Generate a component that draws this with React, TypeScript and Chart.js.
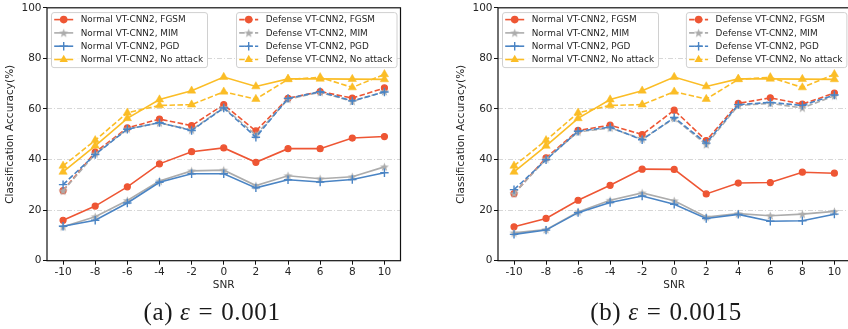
import React, { useEffect, useRef } from 'react';
import { Chart, registerables } from 'chart.js';

Chart.register(...registerables);

// ---------- data ----------
const snrLabels = ['-10', '-8', '-6', '-4', '-2', '0', '2', '4', '6', '8', '10'];

const seriesNames = [
  'Normal VT-CNN2, FGSM',
  'Normal VT-CNN2, MIM',
  'Normal VT-CNN2, PGD',
  'Normal VT-CNN2, No attack',
  'Defense VT-CNN2, FGSM',
  'Defense VT-CNN2, MIM',
  'Defense VT-CNN2, PGD',
  'Defense VT-CNN2, No attack',
];

const captionA = '0.001';
const captionB = '0.0015';

// (a) epsilon = 0.001
const normalFgsmA = [16.0, 21.6, 29.2, 38.3, 43.1, 44.6, 38.9, 44.3, 44.3, 48.5, 49.1];
const normalMimA = [13.4, 17.4, 23.8, 31.5, 35.5, 35.8, 29.7, 33.6, 32.4, 33.2, 37.1];
const normalPgdA = [13.6, 16.0, 22.8, 31.0, 34.4, 34.4, 28.8, 32.0, 31.1, 32.1, 34.8];
const normalNoneA = [35.1, 45.4, 56.3, 63.7, 67.2, 72.6, 68.9, 71.9, 71.9, 71.8, 71.7];
const defenseFgsmA = [27.7, 42.9, 52.5, 56.0, 53.4, 61.7, 51.3, 64.2, 66.9, 64.3, 68.3];
const defenseMimA = [27.6, 42.2, 52.1, 54.5, 51.7, 60.6, 49.7, 63.9, 66.6, 63.0, 66.9];
const defensePgdA = [30.1, 42.0, 52.0, 54.6, 51.5, 60.4, 48.8, 64.2, 66.8, 63.2, 66.7];
const defenseNoneA = [37.5, 47.6, 58.5, 61.4, 61.7, 66.8, 63.9, 71.7, 72.5, 68.5, 73.7];

// (b) epsilon = 0.0015
const normalFgsmB = [13.4, 16.7, 23.9, 29.8, 36.2, 36.1, 26.4, 30.7, 30.9, 35.0, 34.6];
const normalMimB = [11.0, 12.3, 19.3, 23.9, 26.8, 23.7, 17.3, 18.6, 17.8, 18.4, 19.5];
const normalPgdB = [10.4, 12.1, 19.0, 23.0, 25.6, 22.3, 16.7, 18.3, 15.6, 15.8, 18.4];
const normalNoneB = [35.1, 45.4, 56.3, 63.7, 67.2, 72.6, 68.9, 71.9, 71.9, 71.8, 71.7];
const defenseFgsmB = [26.5, 40.7, 51.5, 53.6, 49.9, 59.5, 47.5, 62.2, 64.4, 61.9, 66.3];
const defenseMimB = [26.5, 40.2, 50.9, 52.5, 48.1, 56.3, 45.9, 61.4, 62.2, 60.4, 65.2];
const defensePgdB = [28.1, 39.9, 51.2, 52.8, 47.8, 56.6, 46.5, 61.7, 62.6, 61.4, 65.5];
const defenseNoneB = [37.5, 47.6, 58.5, 61.4, 61.7, 66.8, 63.9, 71.7, 72.5, 68.5, 73.7];

const yTicks = [0, 20, 40, 60, 80, 100];

// ---------- styles ----------
const RED = '#ee5634';
const GRAY = '#acacac';
const BLUE = '#4a84c4';
const YELLOW = '#fbbd26';
const FONT = '"DejaVu Sans", sans-serif';
const LEGEND_FONT = `8.9px ${FONT}`;
const DASH = [5.5, 2.4];

type Marker = 'circle' | 'star' | 'cross' | 'triangle';
const styleOf: { color: string; marker: Marker; dashed: boolean }[] = [
  { color: RED, marker: 'circle', dashed: false },
  { color: GRAY, marker: 'star', dashed: false },
  { color: BLUE, marker: 'cross', dashed: false },
  { color: YELLOW, marker: 'triangle', dashed: false },
  { color: RED, marker: 'circle', dashed: true },
  { color: GRAY, marker: 'star', dashed: true },
  { color: BLUE, marker: 'cross', dashed: true },
  { color: YELLOW, marker: 'triangle', dashed: true },
];

function makeStar(color: string) {
  const size = 11;
  const c = document.createElement('canvas');
  c.width = size;
  c.height = size;
  const g = c.getContext('2d')!;
  g.beginPath();
  for (let k = 0; k < 10; k++) {
    const rr = k % 2 === 0 ? 4.7 : 1.9;
    const a = -Math.PI / 2 + (k * Math.PI) / 5;
    const px = size / 2 + rr * Math.cos(a);
    const py = size / 2 + 0.4 + rr * Math.sin(a);
    if (k === 0) g.moveTo(px, py);
    else g.lineTo(px, py);
  }
  g.closePath();
  g.fillStyle = color;
  g.fill();
  return c;
}

function drawMarker(ctx: CanvasRenderingContext2D, m: Marker, x: number, y: number, color: string, star: HTMLCanvasElement) {
  ctx.save();
  ctx.setLineDash([]);
  ctx.fillStyle = color;
  ctx.strokeStyle = color;
  if (m === 'circle') {
    ctx.beginPath();
    ctx.arc(x, y, 3.8, 0, Math.PI * 2);
    ctx.fill();
  } else if (m === 'triangle') {
    const R = 4.8;
    ctx.beginPath();
    for (let k = 0; k < 3; k++) {
      const a = -Math.PI / 2 + (k * 2 * Math.PI) / 3;
      const px = x + R * Math.cos(a);
      const py = y + R * Math.sin(a);
      if (k === 0) ctx.moveTo(px, py);
      else ctx.lineTo(px, py);
    }
    ctx.closePath();
    ctx.fill();
  } else if (m === 'cross') {
    ctx.lineWidth = 1.4;
    ctx.beginPath();
    ctx.moveTo(x - 4.2, y);
    ctx.lineTo(x + 4.2, y);
    ctx.moveTo(x, y - 4.2);
    ctx.lineTo(x, y + 4.2);
    ctx.stroke();
  } else {
    ctx.drawImage(star, x - star.width / 2, y - star.height / 2);
  }
  ctx.restore();
}

function makeLegendPlugin(star: HTMLCanvasElement) {
  return {
    id: 'dualLegend',
    afterDatasetsDraw(chart: any) {
      const ctx: CanvasRenderingContext2D = chart.ctx;
      const ca = chart.chartArea;
      const ds = chart.data.datasets;
      ctx.save();
      ctx.font = LEGEND_FONT;
      const groups = [ds.slice(0, 4), ds.slice(4, 8)];
      groups.forEach((g: any[], gi: number) => {
        const textW = Math.max(...g.map((d) => ctx.measureText(d.label).width));
        const padL = 3.2;
        const handle = 19;
        const gap = 7.5;
        const padR = 4;
        const w = padL + handle + gap + textW + padR;
        const h = 55;
        const x = gi === 0 ? ca.left + 4 : ca.right - 4 - w;
        const y = ca.top + 4.3;
        ctx.beginPath();
        if ((ctx as any).roundRect) (ctx as any).roundRect(x + 0.5, y + 0.5, w, h, 2.5);
        else ctx.rect(x + 0.5, y + 0.5, w, h);
        ctx.fillStyle = 'rgba(255,255,255,0.85)';
        ctx.fill();
        ctx.strokeStyle = '#d0d0d0';
        ctx.lineWidth = 1;
        ctx.stroke();
        g.forEach((d: any, i: number) => {
          const cy = y + 7.5 + i * 13.3;
          const st = styleOf[gi * 4 + i];
          ctx.save();
          ctx.strokeStyle = st.color;
          ctx.lineWidth = 1.6;
          ctx.setLineDash(st.dashed ? DASH : []);
          ctx.beginPath();
          ctx.moveTo(x + padL, cy);
          ctx.lineTo(x + padL + handle, cy);
          ctx.stroke();
          ctx.restore();
          drawMarker(ctx, st.marker, x + padL + handle / 2, cy, st.color, star);
          ctx.fillStyle = '#262626';
          ctx.textBaseline = 'middle';
          ctx.textAlign = 'left';
          ctx.fillText(d.label, x + padL + handle + gap, cy + 0.5);
        });
      });
      ctx.restore();
    },
  };
}

const boxPlugin = {
  id: 'boxFrame',
  afterDraw(chart: any) {
    const { ctx, chartArea: ca } = chart;
    ctx.save();
    ctx.strokeStyle = '#111';
    ctx.lineWidth = 1.2;
    ctx.setLineDash([]);
    ctx.strokeRect(ca.left, ca.top, ca.right - ca.left, ca.bottom - ca.top);
    ctx.restore();
  },
};

function Panel(props: {
  series: number[][];
  left: number;
  width: number;
  padLeft: number;
  padRight: number;
}) {
  const ref = useRef<HTMLCanvasElement | null>(null);
  useEffect(() => {
    const canvas = ref.current!;
    const star = makeStar(GRAY);
    const pointStyleOf = (m: Marker): any => (m === 'star' ? star : m);
    const radiusOf = (m: Marker) => (m === 'circle' ? 3.0 : m === 'triangle' ? 4.8 : m === 'cross' ? 4.2 : 4);
    const datasets = props.series.map((data, i) => {
      const st = styleOf[i];
      return {
        label: seriesNames[i],
        data,
        borderColor: st.color,
        backgroundColor: st.color,
        borderWidth: 1.6,
        borderDash: st.dashed ? DASH : [],
        pointStyle: pointStyleOf(st.marker),
        pointRadius: radiusOf(st.marker),
        pointBorderWidth: st.marker === 'cross' ? 1.4 : st.marker === 'circle' ? 1.2 : 0.5,
        pointBackgroundColor: st.color,
        pointBorderColor: st.color,
        tension: 0,
        fill: false,
        order: -i,
      };
    });
    const chart = new Chart(canvas, {
      type: 'line',
      data: { labels: snrLabels, datasets },
      options: {
        responsive: false,
        animation: false,
        events: [],
        layout: { padding: { left: props.padLeft, right: props.padRight, top: 6.7, bottom: 0 } },
        plugins: { legend: { display: false }, tooltip: { enabled: false } },
        scales: {
          x: {
            type: 'category',
            offset: true,
            border: { display: false },
            grid: { drawOnChartArea: false, drawTicks: true, tickLength: 4, tickColor: '#111', tickWidth: 1 },
            ticks: { color: '#262626', font: { family: FONT, size: 10.5 }, padding: 1, maxRotation: 0, autoSkip: false },
            title: { display: true, text: 'SNR', color: '#262626', font: { family: FONT, size: 10.5 }, padding: { top: 0, bottom: 8 } },
            afterFit: (s: any) => {
              s.height = 300 - 260.7;
            },
          },
          y: {
            type: 'linear',
            min: 0,
            max: 100,
            border: { display: false, dash: [5, 2, 1, 2] },
            afterBuildTicks: (s: any) => {
              s.ticks = yTicks.map((v) => ({ value: v }));
            },
            grid: {
              color: (c: any) => (c.tick && (c.tick.value === 0 || c.tick.value === 100) ? 'rgba(0,0,0,0)' : '#d3d3d3'),
              lineWidth: 0.9,
              tickLength: 4,
              tickColor: '#111',
              tickWidth: 1,
              tickBorderDash: [],
            },
            ticks: { color: '#262626', font: { family: FONT, size: 10.5 }, padding: 1.5 },
            title: {
              display: true,
              text: 'Classification Accuracy(%)',
              color: '#262626',
              font: { family: FONT, size: 10.5 },
              padding: { top: 3.7, bottom: 0 },
            },
            afterFit: (s: any) => {
              s.width = 47;
            },
          },
        },
      },
      plugins: [makeLegendPlugin(star), boxPlugin],
    } as any);
    return () => chart.destroy();
  }, []);
  return (
    <canvas
      ref={ref}
      width={props.width}
      height={300}
      style={{ position: 'absolute', left: props.left, top: 0, width: props.width, height: 300 }}
    />
  );
}

function Caption(props: { letter: string; value: string; center: number }) {
  return (
    <div
      style={{
        position: 'absolute',
        left: props.center,
        top: 298,
        transform: 'translateX(-50%)',
        whiteSpace: 'nowrap',
        fontFamily: '"Liberation Serif", "DejaVu Serif", serif',
        fontSize: 25,
        lineHeight: '27px',
        color: '#1a1a1a',
        letterSpacing: 0.6,
      }}
    >
      ({props.letter})<span style={{ marginLeft: 7 }} />
      <span style={{ fontStyle: 'italic' }}>ε</span>
      <span style={{ margin: '0 8px' }}>=</span>
      {props.value}
    </div>
  );
}

export default function App() {
  const seriesA = [normalFgsmA, normalMimA, normalPgdA, normalNoneA, defenseFgsmA, defenseMimA, defensePgdA, defenseNoneA];
  const seriesB = [normalFgsmB, normalMimB, normalPgdB, normalNoneB, defenseFgsmB, defenseMimB, defensePgdB, defenseNoneB];
  return (
    <div
      style={{
        position: 'fixed',
        left: 0,
        top: 0,
        width: 848,
        height: 329,
        overflow: 'hidden',
        background: '#fff',
      }}
    >
      <Panel series={seriesA} left={0} width={424} padLeft={0} padRight={23.5} />
      <Panel series={seriesB} left={424} width={432} padLeft={27} padRight={4} />
      <Caption letter="a" value={captionA} center={212} />
      <Caption letter="b" value={captionB} center={666} />
    </div>
  );
}
